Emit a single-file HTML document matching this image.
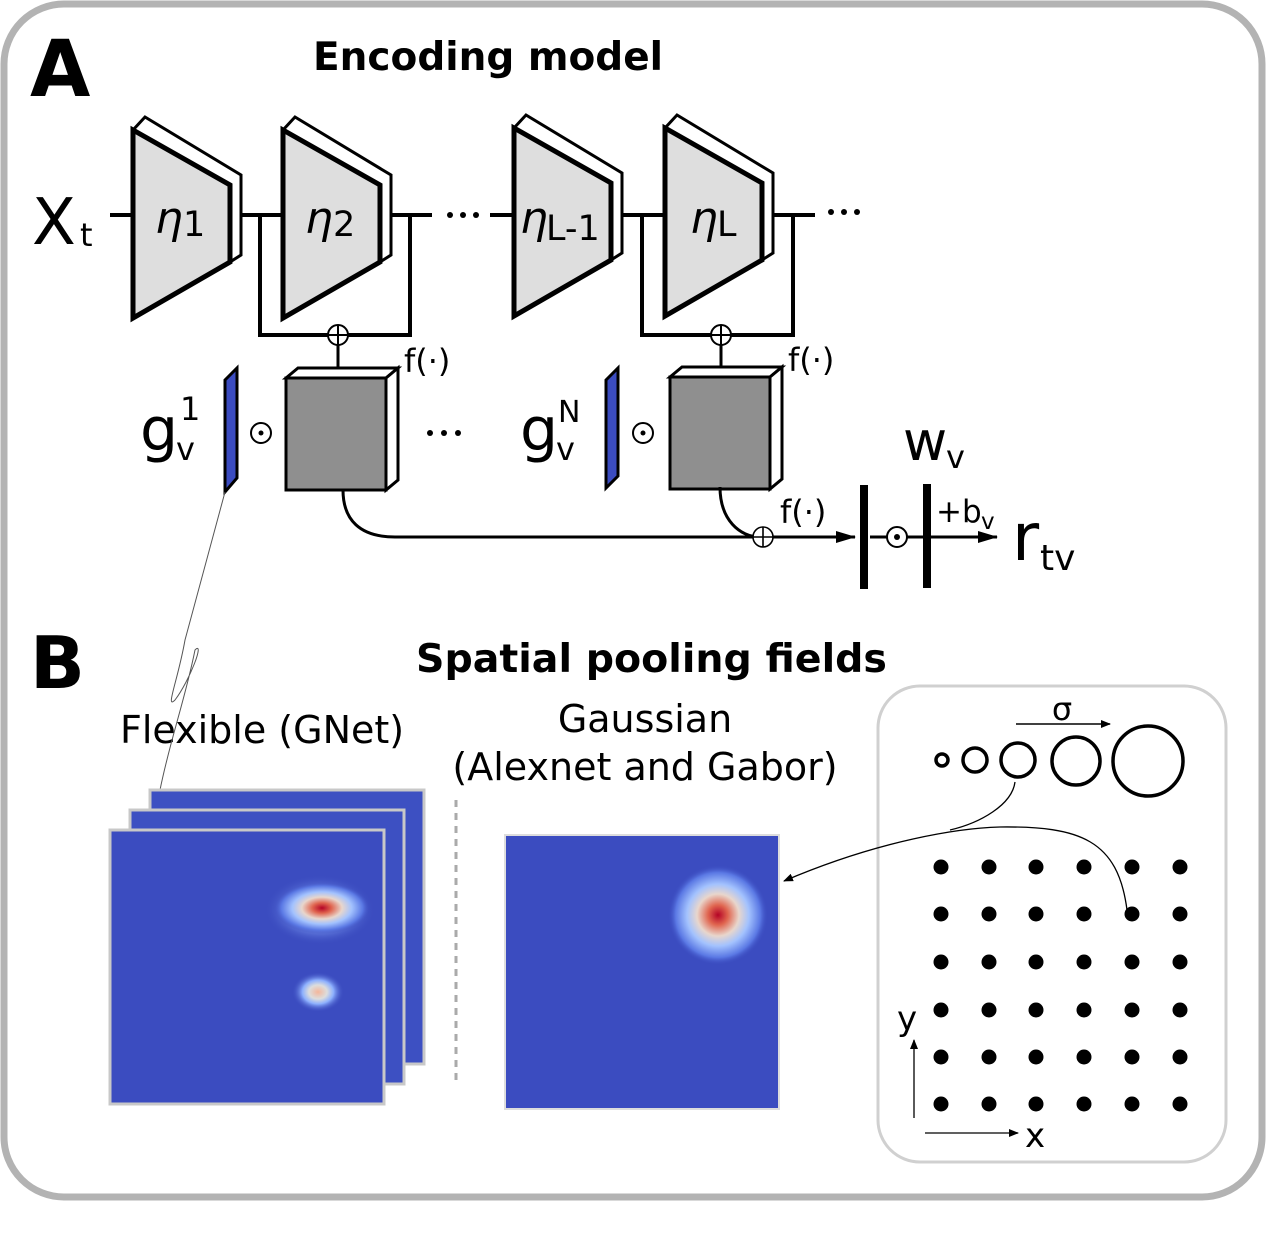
<!DOCTYPE html>
<html><head><meta charset="utf-8"><style>html,body{margin:0;padding:0;background:#fff}svg{display:block}text{font-family:"DejaVu Sans","Liberation Sans",sans-serif}</style></head>
<body>
<svg width="1268" height="1252" viewBox="0 0 1268 1252" xmlns="http://www.w3.org/2000/svg">
<defs>
<marker id="ah" markerWidth="10" markerHeight="8" refX="9" refY="4" orient="auto" markerUnits="userSpaceOnUse"><path d="M0,0 L10,4 L0,8 Z" fill="#000"/></marker>
<marker id="ahb" markerWidth="20" markerHeight="12" refX="19" refY="6" orient="auto" markerUnits="userSpaceOnUse"><path d="M0,0 L20,6 L0,12 Z" fill="#000"/></marker>
<radialGradient id="g2" cx="0.5" cy="0.5" r="0.5">
<stop offset="0" stop-color="#b40426"/><stop offset="0.2" stop-color="#e0654f"/><stop offset="0.42" stop-color="#e8d6cc"/><stop offset="0.62" stop-color="#a3c2fe"/><stop offset="0.85" stop-color="#5a78e4"/><stop offset="1" stop-color="#3b4cc0" stop-opacity="0"/></radialGradient>
<radialGradient id="g3" cx="0.5" cy="0.5" r="0.5">
<stop offset="0" stop-color="#f4b69b"/><stop offset="0.35" stop-color="#dcdddd"/><stop offset="0.6" stop-color="#8db0fe"/><stop offset="1" stop-color="#3b4cc0" stop-opacity="0"/></radialGradient>
</defs>
<rect x="4" y="4" width="1258" height="1193" rx="60" fill="#fff" stroke="#b3b3b3" stroke-width="7"/>

<text x="30" y="96" font-size="78" font-weight="bold">A</text>
<text x="313" y="70" font-size="39" font-weight="bold">Encoding model</text>
<text x="32" y="244" font-size="64">X</text><text x="80" y="246" font-size="32">t</text>

<g stroke="#000" stroke-width="4" fill="none">
<line x1="110" y1="215" x2="133" y2="215"/>
<line x1="241" y1="215" x2="283" y2="215"/>
<line x1="391" y1="215" x2="432" y2="215"/>
<line x1="490" y1="215" x2="514" y2="215"/>
<line x1="620" y1="215" x2="665" y2="215"/>
<line x1="772" y1="215" x2="815" y2="215"/>
<path d="M260,215 V335 H410 V215"/>
<path d="M642,215 V335 H793 V215"/>
</g>
<g fill="#000"><circle cx="450" cy="215" r="3"/><circle cx="463" cy="215" r="3"/><circle cx="476" cy="215" r="3"/>
<circle cx="831" cy="212" r="3"/><circle cx="844" cy="212" r="3"/><circle cx="857" cy="212" r="3"/>
<circle cx="430" cy="433" r="3"/><circle cx="444" cy="433" r="3"/><circle cx="458" cy="433" r="3"/></g>

<g id="t1">
<polygon points="133,130 145,117 241,175 241,255 230,262 230,185" fill="#fff" stroke="#000" stroke-width="3"/>
<polygon points="133,130 230,185 230,262 133,318" fill="#dedede" stroke="#000" stroke-width="5"/>
</g>
<use href="#t1" x="150"/>
<use href="#t1" x="381" y="-2"/>
<use href="#t1" x="532" y="-2"/>
<g font-size="44" font-style="italic"><text x="155" y="233">η</text><text x="305" y="233">η</text><text x="520" y="233">η</text><text x="690" y="233">η</text></g>
<g font-size="35"><text x="183" y="236">1</text><text x="333" y="236">2</text><text x="546" y="240">L-1</text><text x="717" y="236">L</text></g>

<g stroke="#000" stroke-width="2" fill="#fff"><circle cx="338" cy="335" r="10"/><path d="M328,335 H348 M338,325 V345"/>
<circle cx="721" cy="335" r="10"/><path d="M711,335 H731 M721,325 V345"/></g>
<line x1="338" y1="345" x2="338" y2="378" stroke="#000" stroke-width="3" marker-end="url(#ah)"/>
<line x1="721" y1="345" x2="721" y2="377" stroke="#000" stroke-width="3" marker-end="url(#ah)"/>

<g id="b1" stroke="#000" stroke-width="3">
<polygon points="286,378 298,368 398,368 386,378" fill="#fff"/>
<polygon points="386,378 398,368 398,480 386,490" fill="#fff"/>
<rect x="286" y="378" width="100" height="112" fill="#8f8f8f"/>
</g>
<use href="#b1" x="384" y="-1"/>
<text x="404" y="372" font-size="32">f(·)</text>
<text x="788" y="371" font-size="32">f(·)</text>

<polygon points="225,380 237,368 237,478 225,492" fill="#3b4cc0" stroke="#000" stroke-width="3"/>
<polygon points="606,380 618,368 618,476 606,488" fill="#3b4cc0" stroke="#000" stroke-width="3"/>
<g stroke="#000" stroke-width="2" fill="none"><circle cx="261" cy="433" r="10"/><circle cx="643" cy="433" r="10"/><circle cx="897" cy="537" r="10"/></g>
<g fill="#000"><circle cx="261" cy="433" r="2.5"/><circle cx="643" cy="433" r="2.5"/><circle cx="897" cy="537" r="3"/></g>
<text x="140" y="450" font-size="60">g</text><text x="180" y="420" font-size="32">1</text><text x="176" y="460" font-size="32">v</text>
<text x="520" y="450" font-size="60">g</text><text x="558" y="422" font-size="30">N</text><text x="556" y="460" font-size="32">v</text>

<g stroke="#000" stroke-width="3" fill="none">
<path d="M343,490 C343,520 360,537 395,537 L855,537" marker-end="url(#ahb)"/>
<path d="M720,487 C720,520 740,537 760,537"/>
<line x1="870" y1="537" x2="887" y2="537"/>
<line x1="907" y1="537" x2="997" y2="537" marker-end="url(#ahb)"/>
</g>
<g stroke="#000" stroke-width="1.6" fill="#fff"><circle cx="763" cy="537" r="10"/><path d="M753,537 H773 M763,527 V547"/></g>
<line x1="864" y1="485" x2="864" y2="589" stroke="#000" stroke-width="8"/>
<line x1="927" y1="484" x2="927" y2="588" stroke="#000" stroke-width="8"/>
<text x="780" y="523" font-size="32">f(·)</text>
<text x="903" y="460" font-size="54">w</text><text x="946" y="468" font-size="32">v</text>
<text x="936" y="522" font-size="31">+b</text><text x="981" y="529" font-size="23">v</text>
<text x="1012" y="560" font-size="66">r</text><text x="1040" y="570" font-size="36">tv</text>

<text x="30" y="688" font-size="72" font-weight="bold">B</text>
<text x="416" y="672" font-size="39.5" font-weight="bold">Spatial pooling fields</text>
<text x="120" y="743" font-size="38">Flexible (GNet)</text>
<text x="645" y="732" font-size="38" text-anchor="middle">Gaussian</text>
<text x="645" y="780" font-size="38" text-anchor="middle">(Alexnet and Gabor)</text>

<path d="M225,492 L185,640 C178,680 165,710 175,700 C190,680 205,640 195,650 C185,700 170,740 160,790" stroke="#555" stroke-width="1" fill="none"/>

<g stroke="#c8c8c8" stroke-width="3">
<rect x="150" y="790" width="274" height="274" fill="#3d50c2"/>
<rect x="130" y="810" width="274" height="274" fill="#3d50c2"/>
<rect x="110" y="830" width="274" height="274" fill="#3b4cc0"/>
</g>
<ellipse cx="320" cy="910" rx="55" ry="35" fill="url(#g3)" opacity="0.5"/>
<ellipse cx="322" cy="908" rx="48" ry="26" fill="url(#g2)"/>
<ellipse cx="318" cy="992" rx="26" ry="20" fill="url(#g3)"/>
<line x1="456" y1="800" x2="456" y2="1080" stroke="#aaa" stroke-width="3" stroke-dasharray="7,6"/>
<rect x="505" y="835" width="274" height="274" fill="#3b4cc0" stroke="#ddd" stroke-width="2"/>
<circle cx="718" cy="915" r="50" fill="url(#g2)"/>

<rect x="878" y="686" width="348" height="476" rx="42" fill="none" stroke="#d0d0d0" stroke-width="3"/>
<text x="1062" y="720" font-size="32" text-anchor="middle">σ</text>
<line x1="1016" y1="724" x2="1110" y2="724" stroke="#000" stroke-width="1.5" marker-end="url(#ah)"/>
<g stroke="#000" stroke-width="3.5" fill="none">
<circle cx="942" cy="760" r="6"/><circle cx="975" cy="760" r="12"/><circle cx="1018" cy="760" r="17"/><circle cx="1076" cy="761" r="24"/><circle cx="1148" cy="761" r="35"/>
</g>
<g stroke="#000" stroke-width="1.3" fill="none">
<path d="M1015,782 C1012,805 980,823 950,830"/>
<path d="M1127,910 C1118,840 1080,826 1000,827 C960,828 880,840 784,881" marker-end="url(#ah)"/>
</g>
<g fill="#000">
<g id="row"><circle cx="941" cy="867" r="7.5"/><circle cx="989" cy="867" r="7.5"/><circle cx="1036" cy="867" r="7.5"/><circle cx="1084" cy="867" r="7.5"/><circle cx="1132" cy="867" r="7.5"/><circle cx="1180" cy="867" r="7.5"/></g>
<use href="#row" y="47"/><use href="#row" y="95"/><use href="#row" y="143"/><use href="#row" y="190"/><use href="#row" y="237"/>
</g>
<line x1="914" y1="1118" x2="914" y2="1040" stroke="#000" stroke-width="1.3" marker-end="url(#ah)"/>
<line x1="925" y1="1133" x2="1018" y2="1133" stroke="#000" stroke-width="1.3" marker-end="url(#ah)"/>
<text x="897" y="1030" font-size="34">y</text>
<text x="1025" y="1147" font-size="34">x</text>
</svg>
</body></html>
